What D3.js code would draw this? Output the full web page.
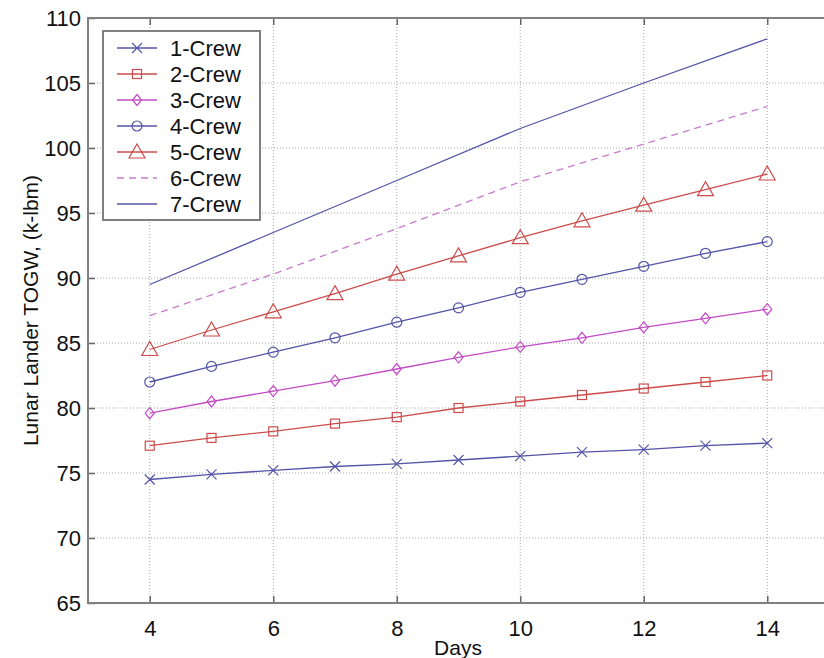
<!DOCTYPE html>
<html>
<head>
<meta charset="utf-8">
<script src="https://cdn.jsdelivr.net/npm/d3@7"></script>
<style>
  body { margin: 0; background: #fff; }
  svg { display: block; font-family: "Liberation Sans", Arial, Helvetica, sans-serif; }
</style>
</head>
<body>
<div id="chart"></div>
<script>
// ── Data ─────────────────────────────────────
const days      = [4, 5, 6, 7, 8, 9, 10, 11, 12, 13, 14];
const crew1     = [74.5, 74.9, 75.2, 75.5, 75.7, 76.0, 76.3, 76.6, 76.8, 77.1, 77.3];
const crew2     = [77.1, 77.7, 78.2, 78.8, 79.3, 80.0, 80.5, 81.0, 81.5, 82.0, 82.5];
const crew3     = [79.6, 80.5, 81.3, 82.1, 83.0, 83.9, 84.7, 85.4, 86.2, 86.9, 87.6];
const crew4     = [82.0, 83.2, 84.3, 85.4, 86.6, 87.7, 88.9, 89.9, 90.9, 91.9, 92.8];
const crew5     = [84.5, 86.0, 87.4, 88.8, 90.3, 91.7, 93.1, 94.4, 95.6, 96.8, 98.0];
const daysEven  = [4, 6, 8, 10, 12, 14];
const crew6     = [87.1, 90.3, 93.8, 97.4, 100.3, 103.2];
const crew7     = [89.5, 93.5, 97.5, 101.5, 105.0, 108.4];

const xTicks = [4, 6, 8, 10, 12, 14];
const yTicks = [65, 70, 75, 80, 85, 90, 95, 100, 105, 110];

const BLUE = "#5454a8", RED = "#cc4c4c", MAG = "#c44cc4", MAG2 = "#cc7acc";

const SERIES = [
  { name: "1-Crew", x: days,     y: crew1, color: BLUE, marker: "x" },
  { name: "2-Crew", x: days,     y: crew2, color: RED,  marker: "square" },
  { name: "3-Crew", x: days,     y: crew3, color: MAG,  marker: "diamond" },
  { name: "4-Crew", x: days,     y: crew4, color: BLUE, marker: "circle" },
  { name: "5-Crew", x: days,     y: crew5, color: RED,  marker: "triangle" },
  { name: "6-Crew", x: daysEven, y: crew6, color: MAG2, marker: null, dash: "7,5" },
  { name: "7-Crew", x: daysEven, y: crew7, color: BLUE, marker: null },
];

// ── Layout ───────────────────────────────────
const W = 824, H = 658;
const L = 88, T = 18, B = 603;
const x = d3.scaleLinear().domain([3, 15]).range([L, L + 12 * 61.75]);
const y = d3.scaleLinear().domain([65, 110]).range([B, T]);

const svg = d3.select("#chart").append("svg")
  .attr("width", W).attr("height", H);

// ── Grid ─────────────────────────────────────
const grid = svg.append("g").attr("stroke", "#a8a8a8").attr("stroke-width", 1)
  .attr("stroke-dasharray", "1,2");
xTicks.forEach(t => grid.append("line")
  .attr("x1", x(t)).attr("x2", x(t)).attr("y1", T).attr("y2", B));
yTicks.slice(1, -1).forEach(t => grid.append("line")
  .attr("x1", L).attr("x2", x(15)).attr("y1", y(t)).attr("y2", y(t)));

// ── Axes (MATLAB style, inward ticks) ────────
const tickFont = g => g.selectAll("text")
  .attr("font-size", "22px").attr("fill", "#111")
  .attr("font-family", "'Liberation Sans', Arial, sans-serif");

svg.append("g").attr("transform", `translate(0,${B})`)
  .call(d3.axisBottom(x).tickValues(xTicks).tickSize(-7).tickPadding(17))
  .call(g => g.select(".domain").remove())
  .call(g => g.selectAll("line").attr("stroke", "#666").attr("stroke-width", 1.5))
  .call(tickFont);

svg.append("g").attr("transform", `translate(0,${T})`)
  .call(d3.axisTop(x).tickValues(xTicks).tickSize(-7).tickFormat(""))
  .call(g => g.select(".domain").remove())
  .call(g => g.selectAll("line").attr("stroke", "#666").attr("stroke-width", 1.5));

svg.append("g").attr("transform", `translate(${L},0)`)
  .call(d3.axisLeft(y).tickValues(yTicks).tickSize(-7).tickPadding(7))
  .call(g => g.select(".domain").remove())
  .call(g => g.selectAll("line").attr("stroke", "#666").attr("stroke-width", 1.5))
  .call(tickFont);

svg.append("rect")
  .attr("x", L).attr("y", T).attr("width", x(15) - L).attr("height", B - T)
  .attr("fill", "none").attr("stroke", "#808080").attr("stroke-width", 2);

// ── Axis labels ──────────────────────────────
svg.append("text")
  .attr("x", (L + W) / 2 + 2).attr("y", H - 3)
  .attr("text-anchor", "middle").attr("font-size", "21px").attr("fill", "#111")
  .text("Days");

svg.append("text")
  .attr("transform", `translate(38,${(T + B) / 2}) rotate(-90)`)
  .attr("text-anchor", "middle").attr("font-size", "21px").attr("fill", "#111")
  .text("Lunar Lander TOGW, (k-lbm)");

// ── Markers ──────────────────────────────────
function drawMarker(g, type, cx, cy, color) {
  const s = g.append("g").attr("fill", "none").attr("stroke", color).attr("stroke-width", 1.2);
  if (type === "x") {
    s.append("path").attr("d", `M${cx - 5},${cy - 5}L${cx + 5},${cy + 5}M${cx - 5},${cy + 5}L${cx + 5},${cy - 5}`);
  } else if (type === "square") {
    s.append("rect").attr("x", cx - 4.5).attr("y", cy - 4.5).attr("width", 9).attr("height", 9);
  } else if (type === "diamond") {
    s.append("path").attr("d", `M${cx},${cy - 5.5}L${cx + 4.5},${cy}L${cx},${cy + 5.5}L${cx - 4.5},${cy}Z`);
  } else if (type === "circle") {
    s.append("circle").attr("cx", cx).attr("cy", cy).attr("r", 5);
  } else if (type === "triangle") {
    s.append("path").attr("d", `M${cx},${cy - 8}L${cx + 8},${cy + 6}L${cx - 8},${cy + 6}Z`);
  }
}

// ── Series ───────────────────────────────────
const plot = svg.append("g");
SERIES.forEach(s => {
  const pts = s.x.map((d, i) => [d, s.y[i]]);
  plot.append("path")
    .datum(pts)
    .attr("d", d3.line().x(d => x(d[0])).y(d => y(d[1])))
    .attr("fill", "none").attr("stroke", s.color).attr("stroke-width", 1.3)
    .attr("stroke-dasharray", s.dash || null);
  if (s.marker) pts.forEach(d => drawMarker(plot, s.marker, x(d[0]), y(d[1]), s.color));
});

// ── Legend ───────────────────────────────────
const leg = svg.append("g");
leg.append("rect")
  .attr("x", 103).attr("y", 31).attr("width", 157).attr("height", 189)
  .attr("fill", "#fff").attr("stroke", "#808080").attr("stroke-width", 2);
SERIES.forEach((s, i) => {
  const ly = 48 + i * 26;
  leg.append("line")
    .attr("x1", 117).attr("x2", 157).attr("y1", ly).attr("y2", ly)
    .attr("stroke", s.color).attr("stroke-width", 1.3)
    .attr("stroke-dasharray", s.dash || null);
  if (s.marker) drawMarker(leg, s.marker, 137, ly, s.color);
  leg.append("text")
    .attr("x", 170).attr("y", ly + 8)
    .attr("font-size", "22px").attr("fill", "#111")
    .text(s.name);
});
</script>
</body>
</html>
